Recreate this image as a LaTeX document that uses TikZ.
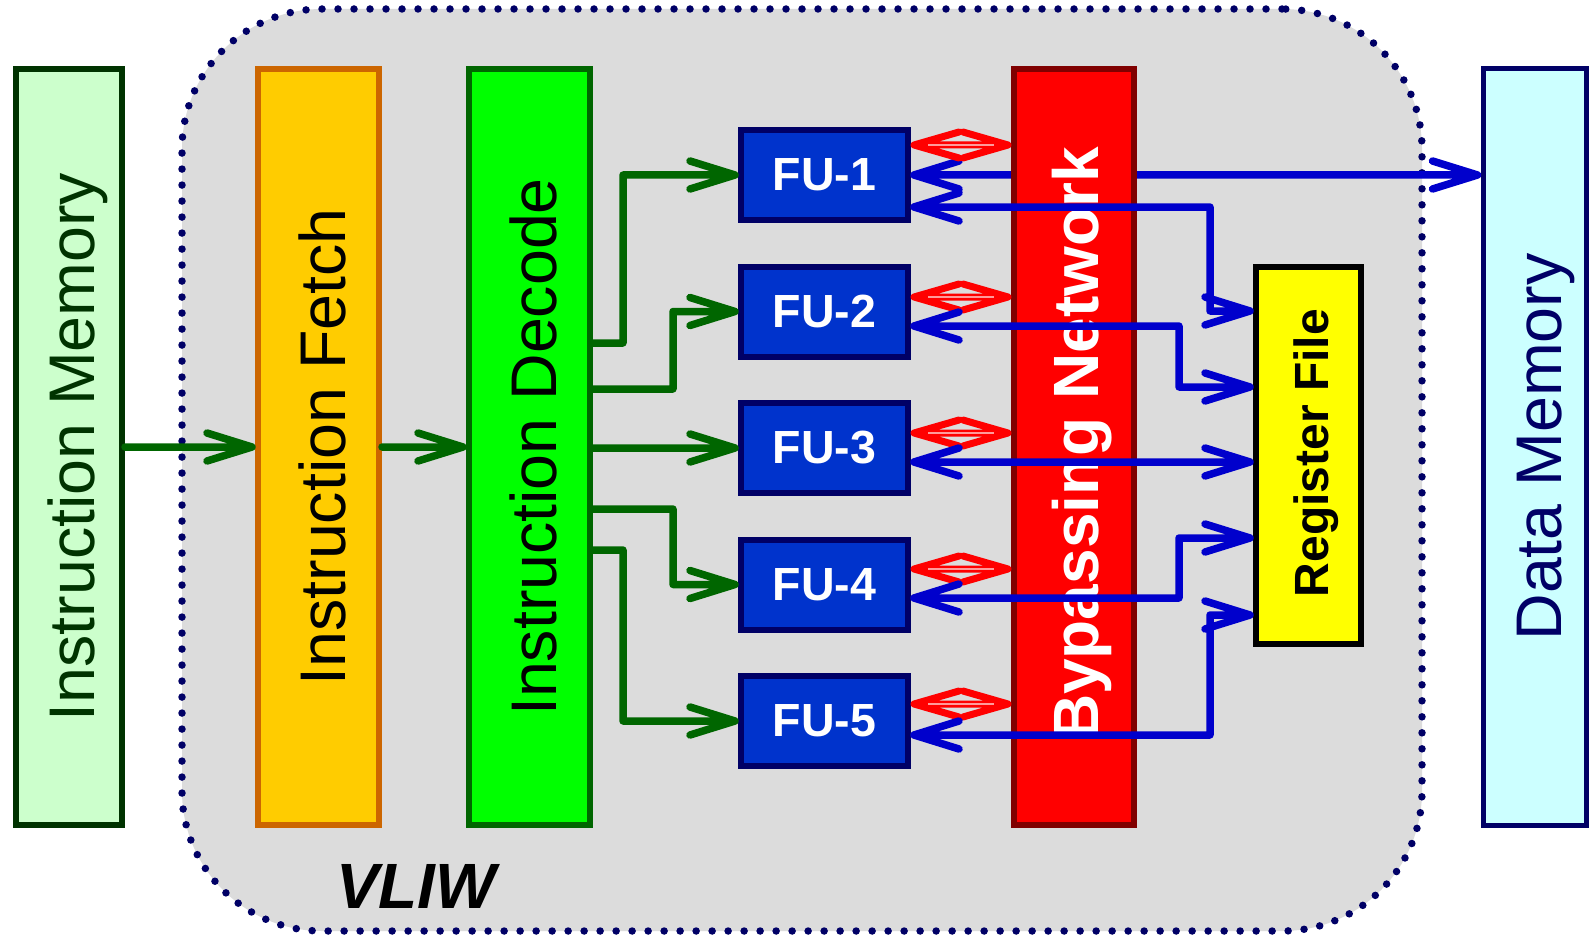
\documentclass[tikz,border=0pt]{standalone}
\usepackage{fontspec}
\setmainfont{Liberation Sans}
\definecolor{bggray}{HTML}{DCDCDC}
\definecolor{navy}{HTML}{000066}
\definecolor{dgreen}{HTML}{006600}
\definecolor{vdgreen}{HTML}{003300}
\definecolor{imfill}{HTML}{CCFFCC}
\definecolor{iffill}{HTML}{FFCC00}
\definecolor{ifdraw}{HTML}{CC6600}
\definecolor{decfill}{HTML}{00FF00}
\definecolor{fufill}{HTML}{0033CC}
\definecolor{bpdraw}{HTML}{800000}
\definecolor{rffill}{HTML}{FFFF00}
\definecolor{dmfill}{HTML}{CCFFFF}
\definecolor{barblue}{HTML}{0000CC}
\definecolor{barred}{HTML}{FF0000}
\definecolor{pinkish}{HTML}{FF9A9A}
\tikzset{
  boxbase/.style={draw, line width=6pt, inner sep=0pt, outer sep=3pt},
  tallbox/.style={boxbase, minimum width=121pt, minimum height=756pt},
  fubox/.style={boxbase, fill=fufill, draw=navy, minimum width=167pt, minimum height=90pt,
    text=white, font=\fontsize{46.5}{50}\selectfont\bfseries},
  bigtxt/.style={anchor=base, rotate=90, inner sep=0pt, font=\fontsize{64.5}{70}\selectfont},
  greenarr/.style={draw=dgreen, line width=7.5pt, line join=round, line cap=round},
  bluearr/.style={draw=barblue, line width=7.5pt, line join=round, line cap=round},
  redarr/.style={draw=barred, line width=7pt, line join=round, line cap=round},
  redcore/.style={draw=pinkish, line width=2.2pt},
  vliwbox/.style={fill=bggray, draw=navy, line width=7.5pt, dash pattern=on 0pt off 16pt,
    line cap=round, rounded corners=140pt, minimum width=1240pt, minimum height=922pt, inner sep=0pt}
}
\begin{document}
\begin{tikzpicture}[x=1pt,y=-1pt]
\useasboundingbox (0,0) rectangle (1589,936);
\fill[white] (0,0) rectangle (1589,936);

% VLIW region
\node[vliwbox] (vliw) at (802,470) {};
\node[anchor=base, inner sep=0pt, font=\fontsize{64}{70}\selectfont\bfseries\itshape] (vliwt) at (416,908) {VLIW};

% Functional units
\node[fubox] (FU1) at (824.5,175) {FU-1};
\node[fubox] (FU2) at (824.5,311.5) {FU-2};
\node[fubox] (FU3) at (824.5,448) {FU-3};
\node[fubox] (FU4) at (824.5,584.5) {FU-4};
\node[fubox] (FU5) at (824.5,721) {FU-5};

% Data memory
\node[boxbase, line width=5pt, outer sep=2.5pt, fill=dmfill, draw=navy, minimum width=103pt, minimum height=756pt] (dm) at (1534.5,447) {};
\node[bigtxt, text=navy] (dmt) at (1561,447) {Data Memory};

% line FU-1 <-> data memory (behind the bypassing network)
\coordinate (dmin) at ([xshift=-3pt]FU1.east -| dm.west);
\coordinate (fu1o) at ([xshift=3pt]FU1.east);
\draw[bluearr] (fu1o) -- (dmin) -- ++(-45,-14) (dmin) -- ++(-45,14)
  (fu1o) -- ++(45,-14) (fu1o) -- ++(45,14);

% Big boxes
\node[tallbox, fill=imfill, draw=vdgreen, minimum width=106pt] (im) at (69,447) {};
\node[bigtxt, text=vdgreen] (imt) at (94,447) {Instruction Memory};
\node[tallbox, fill=iffill, draw=ifdraw] (if) at (318.5,447) {};
\node[bigtxt] (ift) at (345,447) {Instruction Fetch};
\node[tallbox, fill=decfill, draw=dgreen] (dec) at (529.5,447) {};
\node[bigtxt] (dect) at (556,447) {Instruction Decode};
\node[tallbox, fill=barred, draw=bpdraw, minimum width=120pt] (bp) at (1074,447) {};
\node[bigtxt, text=white, font=\fontsize{64}{70}\selectfont\bfseries] (bpt) at (1098,444) {Bypassing Network};
\node[boxbase, fill=rffill, draw=black, minimum width=105pt, minimum height=377pt] (rf) at (1308.5,455.5) {};
\node[bigtxt, font=\fontsize{48}{52}\selectfont\bfseries] (rft) at (1328,453) {Register File};

% green arrows (tip points set 3pt off the box border, for the round caps)
\coordinate (ifin) at ([xshift=-3pt]im.east -| if.west);
\draw[greenarr] (im.east) -- (ifin) -- ++(-45,-14) (ifin) -- ++(-45,14);
\coordinate (decin) at ([xshift=-3pt]if.east -| dec.west);
\draw[greenarr] (if.east) -- (decin) -- ++(-45,-14) (decin) -- ++(-45,14);
\foreach \f/\ys/\xv in {FU1/343/623, FU2/389/673, FU4/509/673, FU5/550/623}{
  \coordinate (gin) at ([xshift=-3pt]\f.west);
  \draw[greenarr] (dec.east |- 0,\ys) -| (\xv,0 |- gin) -- (gin) -- ++(-45,-14) (gin) -- ++(-45,14);
}
\coordinate (g3in) at ([xshift=-3pt]FU3.west);
\draw[greenarr] (dec.east |- FU3.west) -- (g3in) -- ++(-45,-14) (g3in) -- ++(-45,14);

% red arrows (FU <-> bypassing network)
\foreach \f/\yy in {FU1/145, FU2/297, FU3/433, FU4/569, FU5/704}{
  \coordinate (rl) at ([xshift=3pt]\f.east |- 0,\yy);
  \coordinate (rr) at ([xshift=-3pt]bp.west |- 0,\yy);
  \draw[redarr] (rl) -- (rr) -- ++(-45,-13) (rr) -- ++(-45,13)
    (rl) -- ++(45,-13) (rl) -- ++(45,13);
  \draw[redcore] ([xshift=14pt]rl) -- ([xshift=-14pt]rr);
}

% blue arrows (FU <-> register file)
\foreach \f/\ya/\xv/\yb in {FU1/207/1210/311, FU2/326/1179/387, FU4/598/1179/538, FU5/735/1210/615}{
  \coordinate (bl) at ([xshift=3pt]\f.east |- 0,\ya);
  \coordinate (br) at ([xshift=-3pt]rf.west |- 0,\yb);
  \draw[bluearr] (bl) -| (\xv,\yb) -- (br) -- ++(-45,-14) (br) -- ++(-45,14)
    (bl) -- ++(45,-14) (bl) -- ++(45,14);
}
\coordinate (b3l) at ([xshift=3pt]FU3.east |- 0,462);
\coordinate (b3r) at ([xshift=-3pt]rf.west |- 0,462);
\draw[bluearr] (b3l) -- (b3r) -- ++(-45,-14) (b3r) -- ++(-45,14)
  (b3l) -- ++(45,-14) (b3l) -- ++(45,14);
\end{tikzpicture}
\end{document}
